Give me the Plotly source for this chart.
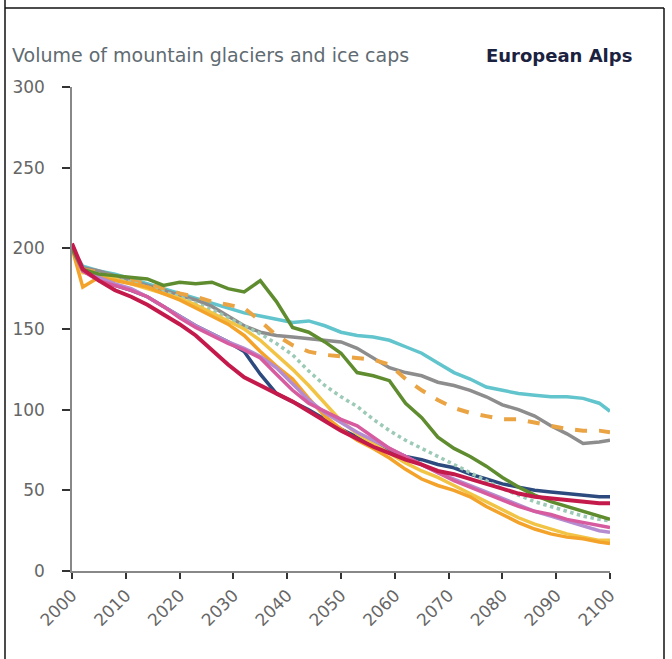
import plotly.graph_objects as go

# Simulated ice volume of European Alps glaciers under a range of model runs
years = [2000, 2002, 2005, 2008, 2011, 2014, 2017, 2020, 2023, 2026, 2029, 2032,
         2035, 2038, 2041, 2044, 2047, 2050, 2053, 2056, 2059, 2062, 2065, 2068,
         2071, 2074, 2077, 2080, 2083, 2086, 2089, 2092, 2095, 2098, 2100]

navy = [200, 186, 181, 177, 174, 170, 164, 158, 152, 147, 142, 136, 122, 110, 105, 100,
        94, 88, 83, 79, 75, 71, 69, 66, 64, 60, 57, 54, 52, 50, 49, 48, 47, 46, 46]
teal = [200, 189, 186, 184, 181, 178, 175, 172, 169, 166, 163, 160, 158, 156, 154, 155,
        152, 148, 146, 145, 143, 139, 135, 129, 123, 119, 114, 112, 110, 109, 108, 108,
        107, 104, 99]
gray = [200, 188, 186, 183, 180, 177, 174, 171, 168, 164, 158, 152, 148, 146, 145, 144,
        143, 142, 138, 132, 126, 123, 121, 117, 115, 112, 108, 103, 100, 96, 90, 85,
        79, 80, 81]
orange_dash = [200, 187, 185, 182, 180, 178, 175, 172, 170, 167, 165, 163, 155, 146,
               140, 136, 134, 133, 132, 131, 128, 119, 112, 106, 101, 98, 96, 94, 94,
               92, 90, 88, 87, 87, 86]
green_dot = [200, 187, 184, 181, 179, 176, 173, 170, 166, 162, 157, 152, 147, 141, 134,
             124, 115, 108, 102, 94, 87, 81, 76, 71, 66, 61, 56, 51, 47, 43, 40, 37, 34,
             32, 31]
yellow = [200, 185, 184, 181, 178, 175, 172, 169, 165, 160, 155, 150, 143, 134, 125, 115,
          104, 93, 85, 79, 73, 67, 62, 58, 53, 48, 43, 38, 33, 29, 26, 23, 21, 19, 19]
orange = [200, 176, 182, 180, 178, 176, 172, 168, 163, 158, 153, 146, 136, 127, 119, 107,
          96, 88, 81, 76, 70, 63, 57, 53, 50, 46, 40, 35, 30, 26, 23, 21, 20, 18, 17]
lilac = [200, 186, 182, 178, 175, 170, 164, 158, 152, 147, 142, 138, 133, 126, 116, 106,
         98, 92, 86, 81, 76, 71, 66, 61, 57, 53, 49, 45, 41, 37, 34, 31, 28, 25, 24]
pink = [200, 186, 180, 177, 174, 170, 164, 157, 151, 146, 141, 137, 132, 122, 112, 104,
        99, 94, 90, 83, 76, 71, 66, 61, 56, 52, 48, 44, 40, 37, 35, 32, 30, 28, 27]
olive = [200, 187, 184, 183, 182, 181, 177, 179, 178, 179, 175, 173, 180, 167, 151, 148,
         142, 135, 123, 121, 118, 104, 95, 83, 76, 71, 65, 58, 52, 47, 43, 40, 37, 34, 32]
crimson = [203, 187, 180, 174, 170, 165, 159, 153, 146, 137, 128, 120, 115, 110, 105, 99,
           93, 87, 82, 77, 73, 69, 66, 62, 60, 57, 54, 51, 48, 46, 45, 44, 43, 42, 42]

y_ticks = [0, 50, 100, 150, 200, 250, 300]
x_ticks = list(range(2000, 2101, 10))

series = [
    (navy, "#2d4a7e", "solid", 3.5),
    (teal, "#62c4cc", "solid", 3.5),
    (gray, "#8d8d8d", "solid", 3.5),
    (orange_dash, "#eaa443", "dash", 4),
    (green_dot, "#9ccab6", "dot", 3.5),
    (yellow, "#f2c446", "solid", 3.5),
    (orange, "#f4a32a", "solid", 3.5),
    (lilac, "#b48ccf", "solid", 3.5),
    (pink, "#d65c9f", "solid", 3.5),
    (olive, "#5f8c2f", "solid", 3.5),
    (crimson, "#c41a4b", "solid", 4),
]

fig = go.Figure()
for vals, color, dash, width in series:
    fig.add_trace(go.Scatter(
        x=years, y=vals, mode="lines",
        line=dict(color=color, width=width, dash=dash),
        showlegend=False, hoverinfo="skip",
    ))

W, H = 672, 659
L, R, T, B = 72, 610, 87, 571  # plot area in pixels


def px(xp):
    return (xp - L) / (R - L)


def py(yp):
    return (B - yp) / (B - T)


frame = dict(type="line", xref="paper", yref="paper",
             line=dict(color="#111111", width=1.5))
shapes = [
    dict(frame, x0=px(5), x1=px(5), y0=py(0), y1=py(659)),
    dict(frame, x0=px(5), x1=px(664), y0=py(8), y1=py(8)),
    dict(frame, x0=px(664), x1=px(664), y0=py(8), y1=py(659)),
]

fig.update_layout(
    width=W, height=H,
    margin=dict(l=L, r=W - R, t=T, b=H - B),
    paper_bgcolor="white", plot_bgcolor="white",
    font=dict(family="DejaVu Sans", color="#666666"),
    shapes=shapes,
    annotations=[
        dict(text="Volume of mountain glaciers and ice caps", xref="paper", yref="paper",
             x=px(10), y=py(55), xanchor="left", yanchor="middle", showarrow=False,
             font=dict(size=19, color="#5f6b72", family="DejaVu Sans")),
        dict(text="<b>European Alps</b>", xref="paper", yref="paper",
             x=px(634), y=py(55), xanchor="right", yanchor="middle", showarrow=False,
             font=dict(size=18, color="#1b2240", family="DejaVu Sans")),
    ],
    xaxis=dict(
        range=[2000, 2100], tickvals=x_ticks, ticktext=[str(v) for v in x_ticks],
        tickangle=-45, ticks="outside", ticklen=6, tickcolor="#333333", tickwidth=1.5,
        showline=True, linecolor="#888888", linewidth=1.5, showgrid=False,
        zeroline=False, tickfont=dict(size=17, color="#666666"),
    ),
    yaxis=dict(
        range=[0, 300], tickvals=y_ticks, ticks="outside", ticklen=8,
        tickcolor="#333333", tickwidth=1.5, showline=True, linecolor="#888888",
        linewidth=1.5, showgrid=False, zeroline=False, ticklabelstandoff=14,
        tickfont=dict(size=17, color="#666666"),
    ),
)

fig.write_html("out.html")
